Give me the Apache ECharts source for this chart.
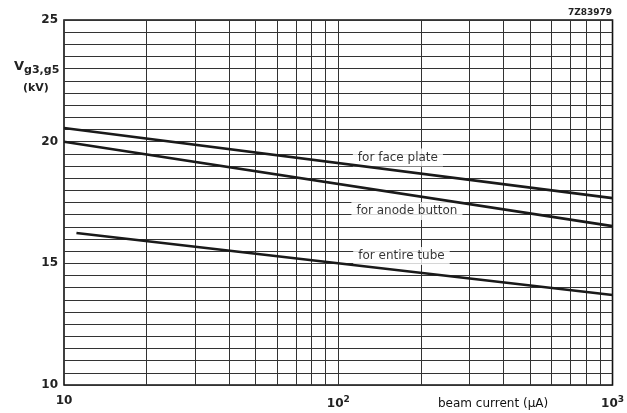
<!DOCTYPE html>
<html><head><meta charset="utf-8">
<script src="https://cdn.jsdelivr.net/npm/echarts@6/dist/echarts.min.js"></script>
<style>html,body{margin:0;padding:0;background:#fff}#c{width:627px;height:413px}</style>
</head><body><div id="c"></div>
<script>
// Data (x: beam current µA, y: Vg3,g5 kV)
const facePlateX = [10, 1000];
const facePlateY = [20.56, 17.68];
const anodeButtonX = [10, 1000];
const anodeButtonY = [20.0, 16.53];
const entireTubeX = [11.1, 1000];
const entireTubeY = [16.25, 13.7];
const xGridValues = [20,30,40,50,60,70,80,90,100,200,300,400,500,600,700,800,900];
const yTickLabels = [10, 15, 20, 25];
const curveLabels = [
  {text: 'for face plate', x: 165, y: 19.35},
  {text: 'for anode button', x: 178, y: 17.15},
  {text: 'for entire tube', x: 170, y: 15.3}
];

const font = '"DejaVu Sans", "Liberation Sans", Arial, sans-serif';
const zip = (xs, ys) => xs.map((x, i) => [x, ys[i]]);
const lineStyle = {color: '#1a1a1a', width: 2.6};

const chart = echarts.init(document.getElementById('c'), null, {renderer: 'canvas'});
chart.setOption({
  animation: false,
  backgroundColor: '#fff',
  grid: {left: 64, right: 10, top: 20, bottom: 28, show: true, borderColor: '#111', borderWidth: 1.6, backgroundColor: 'transparent'},
  xAxis: {
    type: 'log', logBase: 10, min: 10, max: 1000,
    axisLine: {show: false}, axisTick: {show: false},
    splitLine: {show: false},
    axisLabel: {
      margin: 10, color: '#222', fontFamily: font, fontSize: 12, fontWeight: 'bold',
      formatter: v => v === 10 ? '10' : (v === 100 ? '10{s|2}' : (v === 1000 ? '10{s|3}' : '')),
      rich: {s: {fontSize: 9, fontWeight: 'bold', verticalAlign: 'bottom', padding: [0, 0, 8, 0], fontFamily: font, color: '#222'}}
    }
  },
  yAxis: {
    type: 'value', min: 10, max: 25, interval: 0.5,
    axisLine: {show: false}, axisTick: {show: false},
    splitLine: {show: true, lineStyle: {color: '#333', width: 1}},
    axisLabel: {
      margin: 6, color: '#222', fontFamily: font, fontSize: 12, fontWeight: 'bold',
      formatter: v => yTickLabels.indexOf(v) >= 0 ? String(v) : ''
    }
  },
  series: [
    {
      type: 'line', data: [], symbol: 'none', z: 1,
      markLine: {
        silent: true, symbol: 'none', animation: false, z: 1,
        label: {show: false},
        lineStyle: {color: '#333', width: 1, type: 'solid'},
        data: xGridValues.map(v => ({xAxis: v}))
      }
    },
    {
      type: 'scatter', symbolSize: 0, z: 2, silent: true,
      data: curveLabels.map(l => ({value: [l.x, l.y], name: l.text})),
      label: {
        show: true, position: 'inside', formatter: p => p.name,
        color: '#000', fontFamily: font, fontSize: 12,
        backgroundColor: '#fff', padding: [3, 5, 3, 5]
      }
    },
    {type: 'line', data: zip(facePlateX, facePlateY), symbol: 'none', lineStyle: lineStyle, z: 3},
    {type: 'line', data: zip(anodeButtonX, anodeButtonY), symbol: 'none', lineStyle: lineStyle, z: 3},
    {type: 'line', data: zip(entireTubeX, entireTubeY), symbol: 'none', lineStyle: lineStyle, z: 3}
  ],
  graphic: [
    {type: 'text', left: 568, top: 8, style: {text: '7Z83979', font: 'bold 9px ' + font, fill: '#222'}},
    {type: 'text', left: 14, top: 60, style: {
      text: 'V{s|g3,g5}', font: 'bold 13px ' + font, fill: '#222',
      rich: {s: {fontSize: 11, fontWeight: 'bold', fontFamily: font, verticalAlign: 'top', padding: [8, 0, 0, 0], fill: '#222', color: '#222'}}
    }},
    {type: 'text', left: 23, top: 83, style: {text: '(kV)', font: 'bold 11px ' + font, fill: '#222'}},
    {type: 'text', left: 438, top: 398, style: {text: 'beam current (\u03bcA)', font: '12px ' + font, fill: '#111'}}
  ]
});
</script></body></html>
